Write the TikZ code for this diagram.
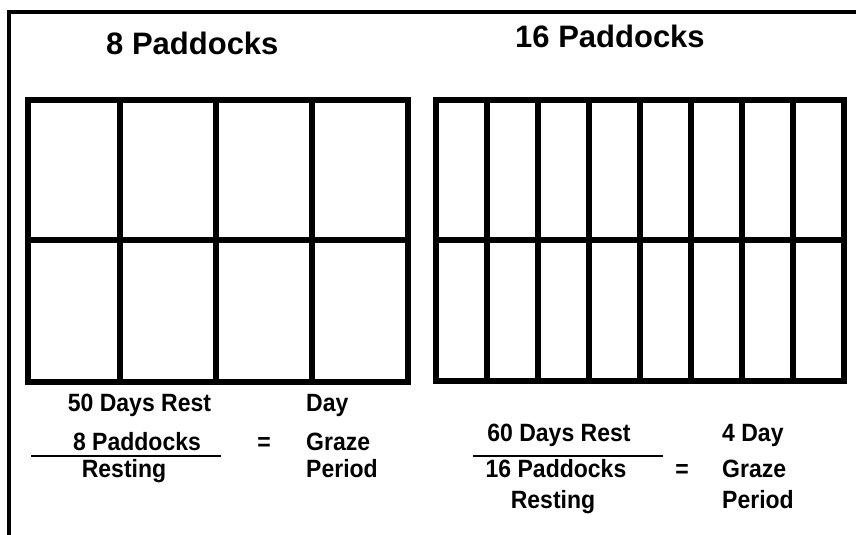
\documentclass[tikz,border=0pt]{standalone}
\usepackage{fontspec}
\setmainfont{Liberation Sans}
\newfontfamily\narrowsans{Liberation Sans}[FakeStretch=0.92]
\usepackage{tikz}
\usetikzlibrary{positioning}
\tikzset{
  frame/.style={line width=4pt, black},
  fence/.style={line width=6pt, black},
  ttl/.style={font=\fontsize{31}{36}\selectfont\bfseries, inner sep=0pt, anchor=base west},
  lbl/.style={font=\narrowsans\fontsize{25}{30}\selectfont\bfseries, inner sep=0pt, anchor=base},
  rhs/.style={lbl, anchor=base west},
  bar/.style={line width=2pt, black}
}

\begin{document}
\begin{tikzpicture}[x=1pt, y=-1pt]
\useasboundingbox (0,0) rectangle (856,535);
% outer frame (top and left only)
\draw[frame] (856,12) -- (9,12) -- (9,535);
% titles
\node[ttl] (ttlA) at (106,55) {8 Paddocks};
\node[ttl] (ttlB) at (515,48) {16 Paddocks};
% 8 paddocks
\draw[fence] (28,100) rectangle (408,382);
\draw[fence] (28,239.5) -- (408,239.5);
\foreach \x in {120,216,312} \draw[fence] (\x,100) -- (\x,382);
% 16 paddocks
\draw[fence] (436,100) rectangle (844,381);
\draw[fence] (436,239.5) -- (844,239.5);
\foreach \i in {1,...,7} \draw[fence] ({436+51*\i},100) -- ({436+51*\i},381);
% left formula
\node[lbl] (restA) at (139.5,411) {50 Days Rest};
\node[lbl] (padA) at (137,450) {8 Paddocks};
\node[lbl] (restingA) at (124,477) {Resting};
\draw[bar] (31,456) -- (221,456);
\node[lbl] (eqA) at (264,450) {=};
\node[rhs] (dayA) at (306,411) {Day};
\node[rhs] (grazeA) at (306,450) {Graze};
\node[rhs] (periodA) at (306,477) {Period};
% right formula
\node[lbl] (restB) at (559,441) {60 Days Rest};
\node[lbl] (padB) at (556,477) {16 Paddocks};
\node[lbl] (restingB) at (553,508) {Resting};
\draw[bar] (473,456) -- (663,456);
\node[lbl] (eqB) at (682,477) {=};
\node[rhs] (dayB) at (722,441) {4 Day};
\node[rhs] (grazeB) at (722,477) {Graze};
\node[rhs] (periodB) at (722,508) {Period};
\end{tikzpicture}
\end{document}
